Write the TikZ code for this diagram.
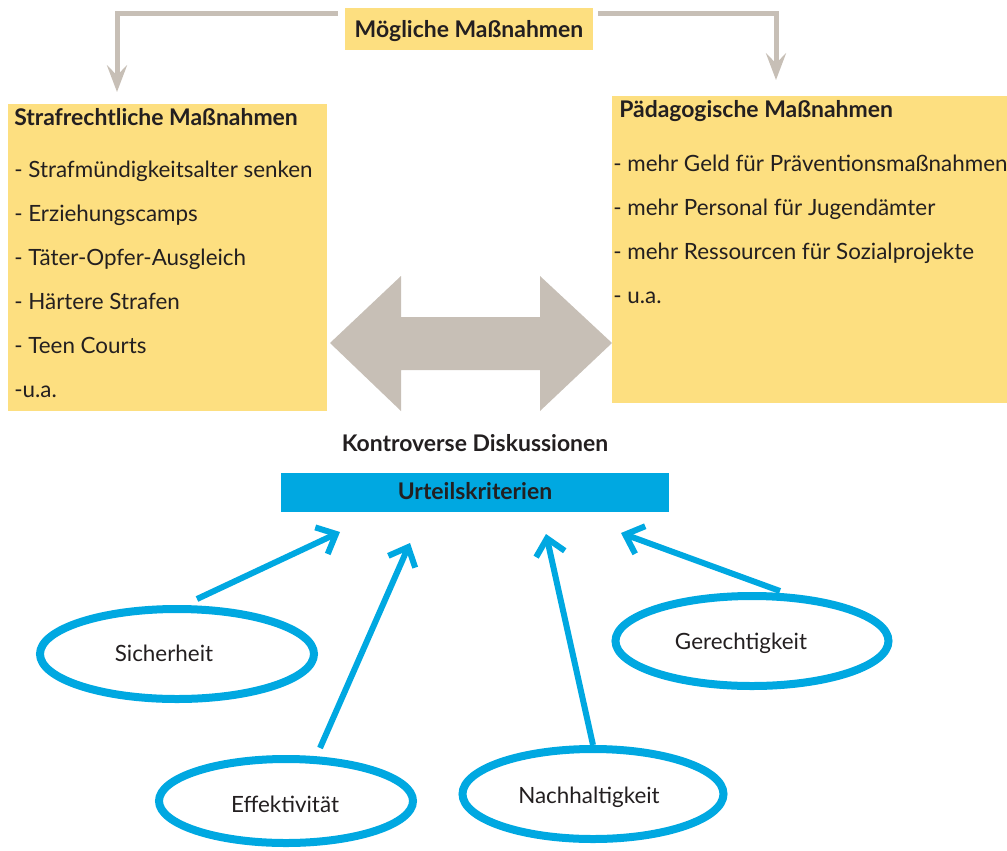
\documentclass[tikz,border=0pt]{standalone}
\usepackage{fontspec}
\setmainfont{Lato}
\usetikzlibrary{arrows.meta,shapes.geometric}
\definecolor{note}{HTML}{FDDF80}
\definecolor{stone}{HTML}{C7BFB6}
\definecolor{sky}{HTML}{00A8E1}
\definecolor{ink}{HTML}{231F20}
\begin{document}
\begin{tikzpicture}[x=0.75pt,y=-0.75pt,
  txt/.style={font=\fontsize{16.8}{19}\selectfont, text=ink, inner sep=0pt},
  head/.style={txt, font=\fontsize{17.2}{19}\selectfont\bfseries},
  notebox/.style={fill=note, draw=none, inner sep=0pt},
  critbox/.style={fill=sky, draw=none, inner sep=0pt},
  crit/.style={ellipse, draw=sky, line width=6pt, inner sep=0pt},
  greyarrow/.style={draw=stone, line width=3.75pt,
    -{Stealth[length=20pt,width=15pt,inset=7.5pt]}},
  bluearrow/.style={draw=sky, line width=4.5pt,
    -{Straight Barb[length=12pt,width=22pt]}}]
\useasboundingbox (0,0) rectangle (1007,850);

% headline box and the two branches
\node[notebox, minimum width=186pt, minimum height=31.5pt] (top) at (469,29) {};
\node[head, anchor=base] (toptext) at (469,37) {Mögliche Maßnahmen};

\node[notebox, minimum width=239.25pt, minimum height=230.25pt] (left) at (167.5,257.5) {};
\node[notebox, minimum width=296.25pt, minimum height=230.25pt] (right) at (809.5,249.5) {};

\coordinate (tipL) at (117,92);
\coordinate (tipR) at (776,80);
\draw[greyarrow] ([shift={(-7,6)}]top.north west) -| (tipL);
\draw[greyarrow] ([shift={(5,6)}]top.north east) -| (tipR);

% criminal law measures
\node[head, anchor=base west] (l0) at (14,125) {Strafrechtliche Maßnahmen};
\node[txt, anchor=base west] (l1) at (14,177) {- Strafmündigkeitsalter senken};
\node[txt, anchor=base west] (l2) at (14,221) {- Erziehungscamps};
\node[txt, anchor=base west] (l3) at (14,265) {- Täter-Opfer-Ausgleich};
\node[txt, anchor=base west] (l4) at (14,309) {- Härtere Strafen};
\node[txt, anchor=base west] (l5) at (14,353) {- Teen Courts};
\node[txt, anchor=base west] (l6) at (14,397) {-u.a.};

% educational measures
\node[head, anchor=base west] (r0) at (619,117) {Pädagogische Maßnahmen};
\node[txt, anchor=base west] (r1) at (613,171) {- mehr Geld für Präventionsmaßnahmen};
\node[txt, anchor=base west] (r2) at (613,215) {- mehr Personal für Jugendämter};
\node[txt, anchor=base west] (r3) at (613,259) {- mehr Ressourcen für Sozialprojekte};
\node[txt, anchor=base west] (r4) at (613,303) {- u.a.};

% two-headed arrow between the positions
\fill[stone] (330,343) -- (401,276) -- (401,317) -- (540,317) -- (540,276)
  -- (612,343) -- (540,411) -- (540,370) -- (401,370) -- (401,411) -- cycle;

\node[head, anchor=base] (debate) at (475,451) {Kontroverse Diskussionen};

% criteria
\node[critbox, minimum width=291pt, minimum height=29.25pt] (crit) at (475,492.5) {};
\node[head, anchor=base] (crittext) at (475,499) {Urteilskriterien};

\node[crit, minimum width=205.5pt, minimum height=67.5pt] (sich) at (177,654) {};
\node[crit, minimum width=190.5pt, minimum height=63pt] (eff) at (286,801) {};
\node[crit, minimum width=195.75pt, minimum height=67.5pt] (nach) at (593,794) {};
\node[crit, minimum width=204.75pt, minimum height=67.5pt] (ger) at (752,641) {};
\node[txt, anchor=base] (sichtext) at (164,661) {Sicherheit};
\node[txt, anchor=base] (efftext) at (285,812) {Effektivität};
\node[txt, anchor=base] (nachtext) at (589,803) {Nachhaltigkeit};
\node[txt, anchor=base] (gertext) at (741,649) {Gerechtigkeit};

\coordinate (s1) at (197,599);  \coordinate (t1) at (340,532);
\coordinate (s2) at (320,748);  \coordinate (t2) at (410,543);
\coordinate (s3) at (593,745);  \coordinate (t3) at (546,534);
\coordinate (s4) at (780,591);  \coordinate (t4) at (621,533);
\draw[bluearrow] (s1) -- (t1);
\draw[bluearrow] (s2) -- (t2);
\draw[bluearrow] (s3) -- (t3);
\draw[bluearrow] (s4) -- (t4);
\end{tikzpicture}
\end{document}
